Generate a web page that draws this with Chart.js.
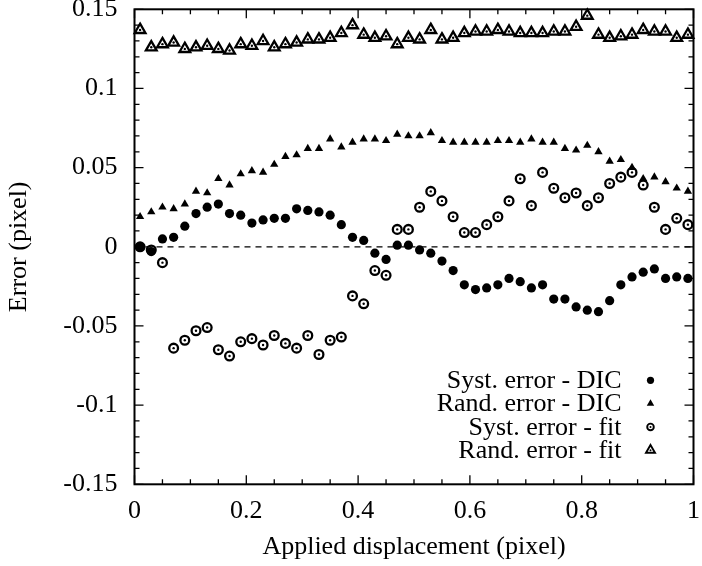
<!DOCTYPE html>
<html>
<head>
<meta charset="utf-8">
<script src="https://cdn.jsdelivr.net/npm/chart.js@4/dist/chart.umd.min.js"></script>
<style>
  html, body { margin: 0; padding: 0; background: #fff; }
  #wrap { width: 702px; height: 566px; }
</style>
</head>
<body>
<div id="wrap"><canvas id="errChart" width="702" height="566"></canvas></div>
<script>
// applied displacement (pixel)
var displacement = [0.01, 0.03, 0.05, 0.07, 0.09, 0.11, 0.13, 0.15, 0.17, 0.19,
  0.21, 0.23, 0.25, 0.27, 0.29, 0.31, 0.33, 0.35, 0.37, 0.39,
  0.41, 0.43, 0.45, 0.47, 0.49, 0.51, 0.53, 0.55, 0.57, 0.59,
  0.61, 0.63, 0.65, 0.67, 0.69, 0.71, 0.73, 0.75, 0.77, 0.79,
  0.81, 0.83, 0.85, 0.87, 0.89, 0.91, 0.93, 0.95, 0.97, 0.99];

var systDIC = [0.000, -0.003, 0.005, 0.006, 0.013, 0.021, 0.025, 0.027, 0.021, 0.020,
  0.015, 0.017, 0.018, 0.018, 0.024, 0.023, 0.022, 0.020, 0.014, 0.006,
  0.004, -0.004, -0.008, 0.001, 0.001, -0.002, -0.004, -0.009, -0.015, -0.024,
  -0.027, -0.026, -0.024, -0.020, -0.022, -0.026, -0.024, -0.033, -0.033, -0.038,
  -0.040, -0.041, -0.034, -0.024, -0.019, -0.016, -0.014, -0.020, -0.019, -0.020];

var randDIC = [0.019, 0.022, 0.025, 0.024, 0.027, 0.035, 0.034, 0.043, 0.039, 0.046,
  0.048, 0.047, 0.052, 0.057, 0.058, 0.062, 0.062, 0.068, 0.063, 0.066,
  0.068, 0.068, 0.067, 0.071, 0.070, 0.070, 0.072, 0.067, 0.066, 0.066,
  0.066, 0.066, 0.067, 0.067, 0.066, 0.068, 0.066, 0.066, 0.062, 0.061,
  0.064, 0.060, 0.054, 0.055, 0.050, 0.043, 0.044, 0.041, 0.037, 0.035];

var systFit = [0.000, -0.002, -0.010, -0.064, -0.059, -0.053, -0.051, -0.065, -0.069, -0.060,
  -0.058, -0.062, -0.056, -0.061, -0.064, -0.056, -0.068, -0.059, -0.057, -0.031,
  -0.036, -0.015, -0.018, 0.011, 0.011, 0.025, 0.035, 0.029, 0.019, 0.009,
  0.009, 0.014, 0.019, 0.029, 0.043, 0.026, 0.047, 0.037, 0.031, 0.034,
  0.026, 0.031, 0.040, 0.044, 0.047, 0.039, 0.025, 0.011, 0.018, 0.014];

var randFit = [0.137, 0.126, 0.128, 0.129, 0.125, 0.126, 0.127, 0.125, 0.124, 0.128,
  0.127, 0.130, 0.126, 0.128, 0.129, 0.131, 0.131, 0.132, 0.135, 0.140,
  0.134, 0.132, 0.133, 0.128, 0.132, 0.131, 0.137, 0.131, 0.132, 0.135,
  0.136, 0.136, 0.137, 0.136, 0.135, 0.135, 0.135, 0.136, 0.136, 0.139,
  0.146, 0.134, 0.132, 0.133, 0.134, 0.137, 0.136, 0.136, 0.132, 0.134];

var seriesLabels = ["Syst. error - DIC", "Rand. error - DIC", "Syst. error - fit", "Rand. error - fit"];
var xTicks = [0, 0.2, 0.4, 0.6, 0.8, 1];
var yTicks = [-0.15, -0.1, -0.05, 0, 0.05, 0.1, 0.15];

var FONT = "'Liberation Serif', 'Times New Roman', serif";
var FSIZE = 26;

function pairs(ys) {
  return ys.map(function (y, i) { return { x: displacement[i], y: y }; });
}

// key symbols: style, radius, filled?, border width, centre dot?
var keyMarks = [
  { style: "circle", r: 3.6, fill: true, bw: 0, dot: false },
  { style: "triangle", r: 4.3, fill: true, bw: 0, dot: false },
  { style: "circle", r: 3.3, fill: false, bw: 1.9, dot: true },
  { style: "triangle", r: 5.2, fill: false, bw: 1.9, dot: true }
];

var gnuplotLook = {
  id: "gnuplotLook",
  afterDraw: function (chart) {
    var ctx = chart.ctx, a = chart.chartArea;
    var xs = chart.scales.x, ys = chart.scales.y;
    ctx.save();
    ctx.strokeStyle = "#000";
    ctx.lineWidth = 1.3;
    var v, p, len;
    // x ticks (inward, mirrored on top)
    for (var k = 0; k <= 20; k++) {
      v = k * 0.05;
      p = xs.getPixelForValue(v);
      len = (k % 4 === 0) ? 9 : 5;
      ctx.beginPath();
      ctx.moveTo(p, a.bottom); ctx.lineTo(p, a.bottom - len);
      ctx.moveTo(p, a.top); ctx.lineTo(p, a.top + len);
      ctx.stroke();
    }
    // y ticks (inward, mirrored on right)
    for (var j = 0; j <= 30; j++) {
      v = -0.15 + j * 0.01;
      p = ys.getPixelForValue(v);
      len = (j % 5 === 0) ? 9 : 5;
      ctx.beginPath();
      ctx.moveTo(a.left, p); ctx.lineTo(a.left + len, p);
      ctx.moveTo(a.right, p); ctx.lineTo(a.right - len, p);
      ctx.stroke();
    }
    // frame
    ctx.lineWidth = 2;
    ctx.strokeRect(a.left, a.top, a.right - a.left, a.bottom - a.top);

    // key, bottom right, text right-aligned before its symbol
    ctx.font = FSIZE + "px " + FONT;
    ctx.textAlign = "right";
    ctx.textBaseline = "middle";
    var symX = a.right - 43, textX = a.right - 72;
    var y0 = a.bottom - 104, step = 23.3;
    for (var i = 0; i < seriesLabels.length; i++) {
      var yy = y0 + i * step, m = keyMarks[i];
      ctx.fillStyle = "#000";
      ctx.fillText(seriesLabels[i], textX, yy + 1);
      ctx.fillStyle = m.fill ? "#000" : "rgba(0,0,0,0)";
      ctx.strokeStyle = "#000";
      ctx.lineWidth = m.bw;
      Chart.helpers.drawPoint(ctx, { pointStyle: m.style, radius: m.r, rotation: 0, borderWidth: m.bw }, symX, yy);
      if (m.dot) {
        ctx.fillStyle = "#000";
        ctx.beginPath(); ctx.arc(symX, yy, 1, 0, Math.PI * 2); ctx.fill();
      }
    }
    ctx.restore();
  }
};

var tickFmt = function (v) {
  if (Math.abs(v) < 1e-9) return "0";
  return String(parseFloat(Number(v).toFixed(2)));
};

function dots(ys, ord) {
  return {
    label: "dot",
    data: pairs(ys),
    pointStyle: "circle",
    pointRadius: 1.2,
    backgroundColor: "#000",
    borderWidth: 0,
    order: ord
  };
}

new Chart(document.getElementById("errChart"), {
  type: "scatter",
  data: {
    datasets: [
      {
        type: "line",
        label: "zero",
        data: [{ x: 0, y: 0 }, { x: 1, y: 0 }],
        borderColor: "#000",
        borderWidth: 1.2,
        borderDash: [6, 5],
        pointRadius: 0,
        order: 10
      },
      {
        label: seriesLabels[0],
        data: pairs(systDIC),
        pointStyle: "circle",
        pointRadius: 4.6,
        backgroundColor: "#000",
        borderColor: "#000",
        borderWidth: 0,
        order: 6
      },
      {
        label: seriesLabels[1],
        data: pairs(randDIC),
        pointStyle: "triangle",
        pointRadius: 4.8,
        backgroundColor: "#000",
        borderColor: "#000",
        borderWidth: 0,
        order: 5
      },
      {
        label: seriesLabels[2],
        data: pairs(systFit),
        pointStyle: "circle",
        pointRadius: 4.4,
        backgroundColor: "rgba(0,0,0,0)",
        borderColor: "#000",
        borderWidth: 2.3,
        order: 4
      },
      dots(systFit, 3),
      {
        label: seriesLabels[3],
        data: pairs(randFit),
        pointStyle: "triangle",
        pointRadius: 6.2,
        backgroundColor: "rgba(0,0,0,0)",
        borderColor: "#000",
        borderWidth: 2.3,
        order: 2
      },
      dots(randFit, 1)
    ]
  },
  options: {
    responsive: false,
    animation: false,
    clip: false,
    layout: { padding: { top: 9.3, right: 7, left: 0, bottom: 0 } },
    plugins: {
      legend: { display: false },
      tooltip: { enabled: false }
    },
    scales: {
      x: {
        type: "linear",
        min: 0,
        max: 1,
        grid: { display: false, drawTicks: false },
        border: { display: false },
        afterBuildTicks: function (s) { s.ticks = xTicks.map(function (v) { return { value: v }; }); },
        afterFit: function (s) { s.height = 81.7; s.paddingLeft = 0; s.paddingRight = 0; },
        ticks: {
          padding: 11,
          color: "#000",
          font: { family: FONT, size: FSIZE },
          callback: tickFmt,
          maxRotation: 0
        },
        title: {
          display: true,
          text: "Applied displacement (pixel)",
          color: "#000",
          font: { family: FONT, size: FSIZE },
          padding: { top: 0, bottom: 3 }
        }
      },
      y: {
        type: "linear",
        min: -0.15,
        max: 0.15,
        grid: { display: false, drawTicks: false },
        border: { display: false },
        afterBuildTicks: function (s) { s.ticks = yTicks.map(function (v) { return { value: v }; }); },
        afterFit: function (s) { s.width = 134.5; s.paddingTop = 0; s.paddingBottom = 0; },
        ticks: {
          padding: 17,
          color: "#000",
          font: { family: FONT, size: FSIZE },
          callback: tickFmt
        },
        title: {
          display: true,
          text: "Error (pixel)",
          color: "#000",
          font: { family: FONT, size: FSIZE },
          padding: { top: 4, bottom: 0 }
        }
      }
    }
  },
  plugins: [gnuplotLook]
});
</script>
</body>
</html>
